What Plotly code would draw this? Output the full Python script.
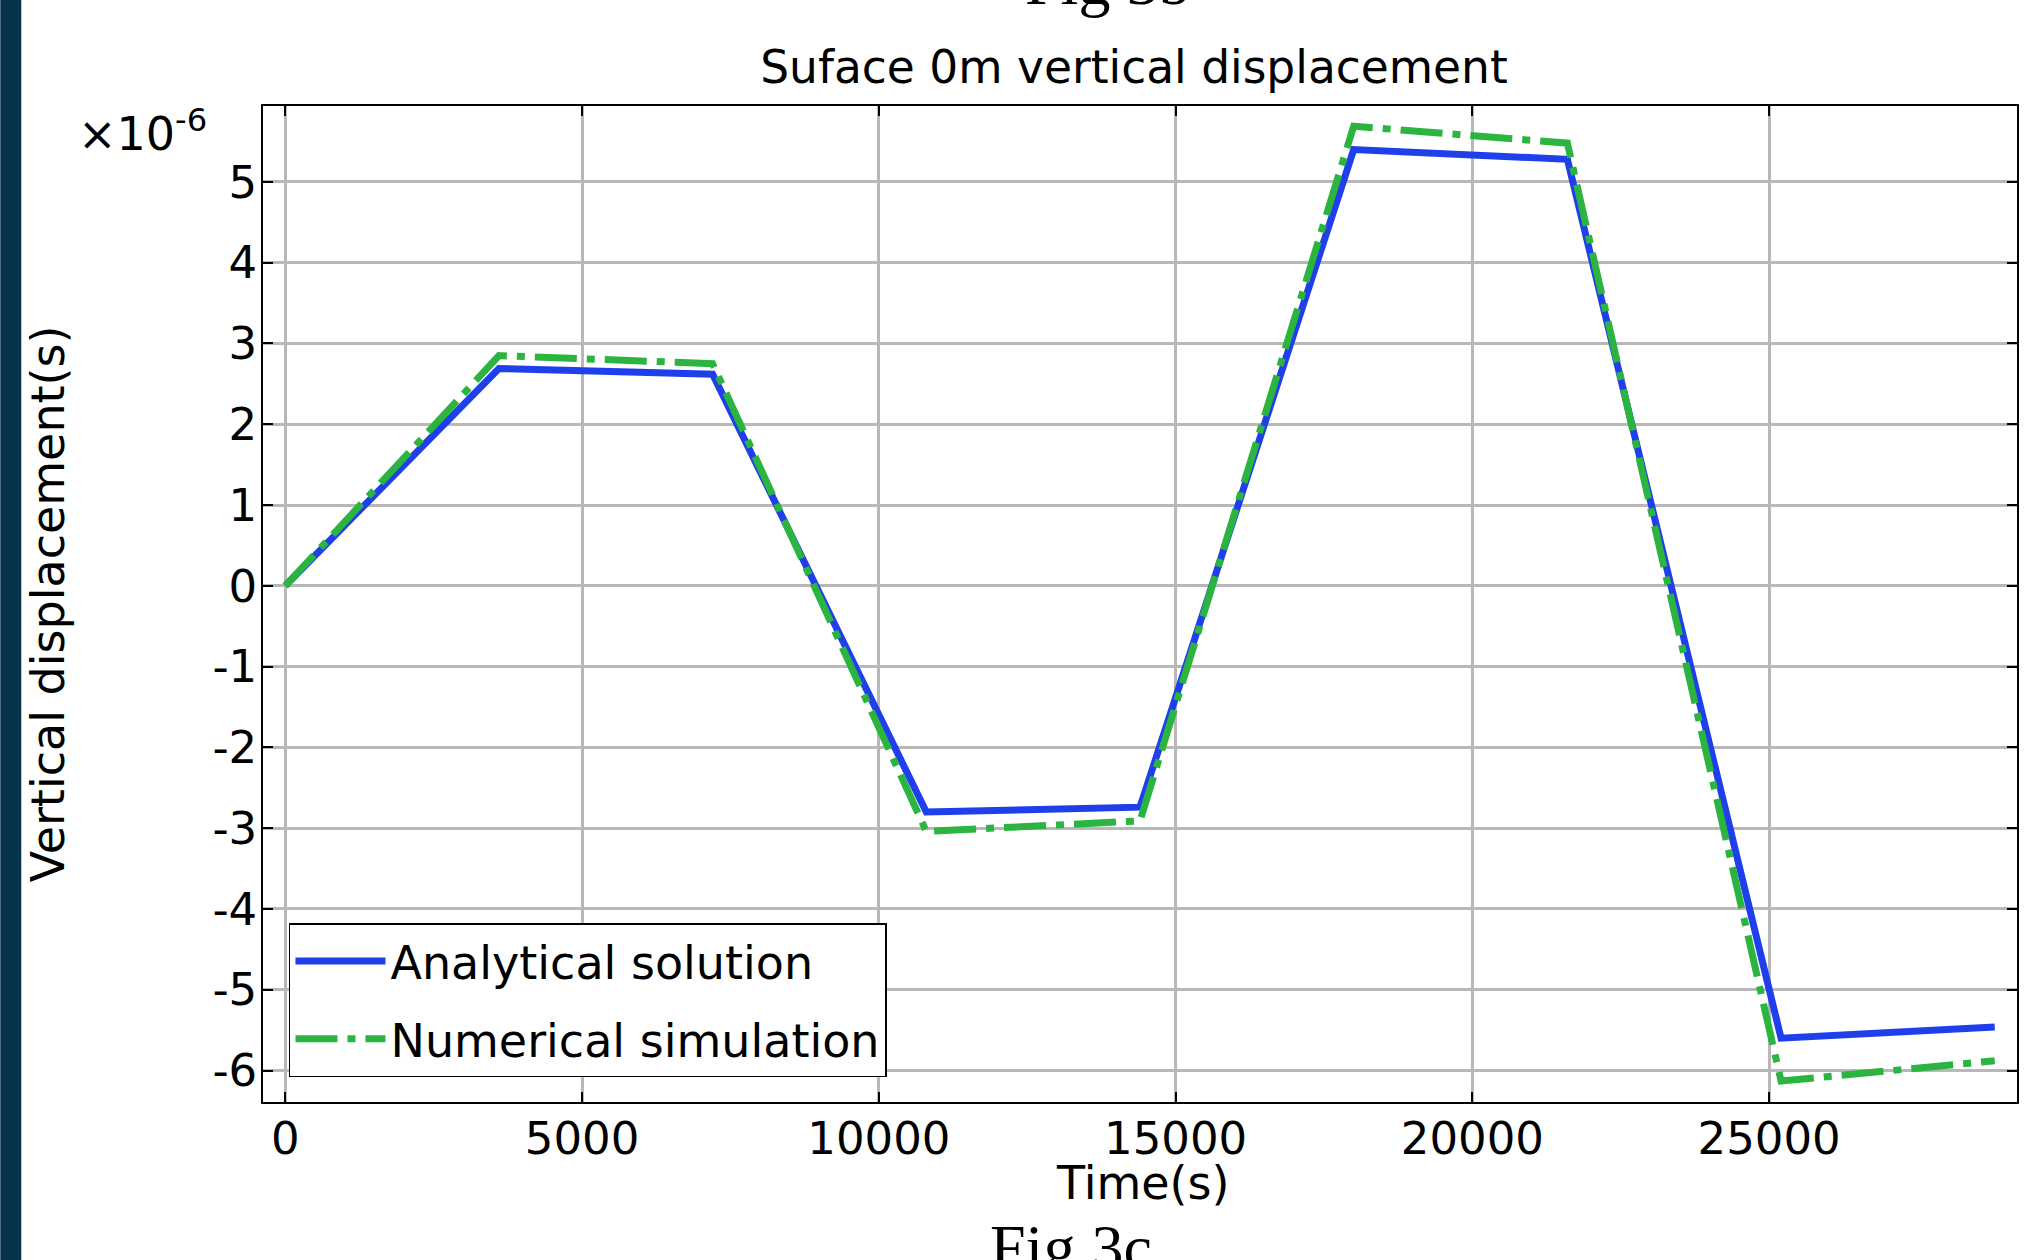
import plotly.graph_objects as go

# ---- data (displacement in units of 1e-6 m) ----
time_s = [0, 3600, 7200, 10800, 14400, 18000, 21600, 25200, 28800]
analytical = [0.0, 2.69, 2.62, -2.80, -2.74, 5.40, 5.28, -5.60, -5.46]
numerical = [0.0, 2.85, 2.75, -3.04, -2.91, 5.69, 5.48, -6.13, -5.88]

x_ticks = [0, 5000, 10000, 15000, 20000, 25000]
x_ticklabels = ["0", "5000", "10000", "15000", "20000", "25000"]
y_ticks = [-6, -5, -4, -3, -2, -1, 0, 1, 2, 3, 4, 5]
y_ticklabels = ["-6", "-5", "-4", "-3", "-2", "-1", "0", "1", "2", "3", "4", "5"]

W, H = 2024, 1260
L, R, T, B = 263, 5, 106, 158
PW, PH = W - L - R, H - T - B

def px_x(p):
    return (p - L) / PW

def px_y(p):
    return (H - B - p) / PH

FONT = "DejaVu Sans"
FS = 46
TFS = 45

fig = go.Figure()
fig.add_trace(go.Scatter(
    x=time_s, y=analytical, mode="lines", name="Analytical solution",
    line=dict(color="#1F3FEA", width=7), legendgroup="a",
))
fig.add_trace(go.Scatter(
    x=time_s, y=numerical, mode="lines", name="Numerical simulation",
    line=dict(color="#2BB540", width=7, dash="42px,10px,8px,10px"), legendgroup="b",
))

axis_common = dict(
    showgrid=True, gridcolor="#B8B8B8", gridwidth=2.5,
    showline=True, linecolor="black", linewidth=1.5, mirror="ticks",
    ticks="inside", ticklen=10, tickwidth=1.5, tickcolor="black",
    zeroline=False, tickfont=dict(family=FONT, size=TFS, color="black"),
)

fig.update_layout(
    width=W, height=H,
    margin=dict(l=L, r=R, t=T, b=B, pad=0),
    paper_bgcolor="white", plot_bgcolor="white",
    title=dict(text="Suface 0m vertical displacement", x=1134 / W, xref="container",
               xanchor="center", y=1 - 67 / H, yref="container", yanchor="middle",
               font=dict(family=FONT, size=45.5, color="black")),
    xaxis=dict(range=[-375, 29175], tickvals=x_ticks, ticktext=x_ticklabels,
               ticklabelstandoff=-4, **axis_common),
    yaxis=dict(range=[-6.39, 5.94], tickvals=y_ticks, ticktext=y_ticklabels,
               ticklabelstandoff=-5, **axis_common),
    showlegend=True,
    legend=dict(x=px_x(289), y=px_y(1077), xanchor="left", yanchor="bottom",
                bgcolor="white", bordercolor="black", borderwidth=1.5,
                font=dict(family=FONT, size=FS, color="black"),
                tracegroupgap=15, itemwidth=90),
    shapes=[dict(type="rect", xref="paper", yref="paper",
                 x0=px_x(0), x1=px_x(21), y0=px_y(H), y1=px_y(0),
                 fillcolor="#05344A", line=dict(width=0), layer="below")],
    annotations=[
        dict(text="×10<sup>-6</sup>", xref="paper", yref="paper", x=px_x(209), y=px_y(131),
             xanchor="right", yanchor="middle", showarrow=False,
             font=dict(family=FONT, size=FS, color="black")),
        dict(text="Vertical displacement(s)", xref="paper", yref="paper", x=px_x(48), y=0.5,
             xanchor="center", yanchor="middle", textangle=-90, showarrow=False,
             font=dict(family=FONT, size=FS, color="black")),
        dict(text="Time(s)", xref="paper", yref="paper", x=px_x(1144), y=px_y(1183),
             xanchor="center", yanchor="middle", showarrow=False,
             font=dict(family=FONT, size=FS, color="black")),
        dict(text="Fig 3c", xref="paper", yref="paper", x=px_x(1072), y=px_y(1247),
             xanchor="center", yanchor="middle", showarrow=False,
             font=dict(family="Liberation Serif", size=64, color="black")),
        dict(text="Fig 3b", xref="paper", yref="paper", x=px_x(1108), y=px_y(-18),
             xanchor="center", yanchor="middle", showarrow=False,
             font=dict(family="Liberation Serif", size=64, color="black")),
    ],
)

fig.write_html("out.html", config={"displayModeBar": False})
with open("out.html", "r", encoding="utf-8") as f:
    html = f.read()
html = html.replace("<body>", '<body style="margin:0;overflow:hidden">', 1)
with open("out.html", "w", encoding="utf-8") as f:
    f.write(html)
